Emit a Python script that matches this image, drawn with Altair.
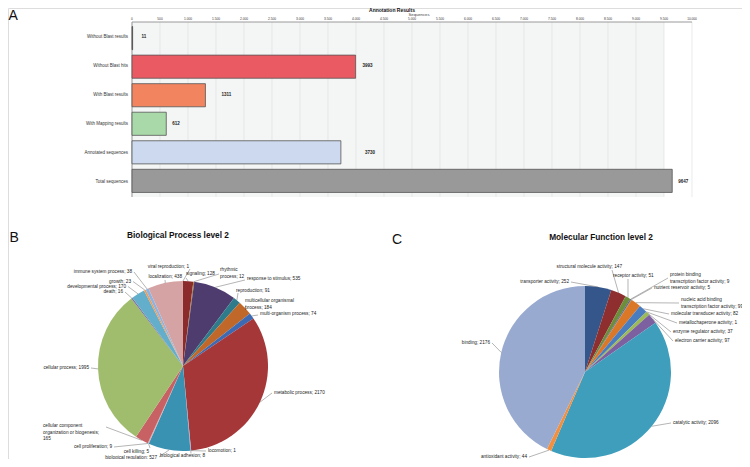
import math
import altair as alt
import pandas as pd

FONT = "Liberation Sans"
TXT = "#222222"

# ---------------- data ----------------
bar_categories = ["Without Blast results", "Without Blast hits", "With Blast results",
                  "With Mapping results", "Annotated sequences", "Total sequences"]
bar_values = [11, 3993, 1311, 612, 3730, 9647]
bar_colors = ["#444444", "#E95A62", "#F2845F", "#A9D9A9", "#CCD9EE", "#999999"]
bar_label_gap_px = [9, 7, 16, 6, 24, 6]
seq_ticks = list(range(0, 10001, 500))

bp_names = ["signaling", "rhythmic process", "response to stimulus", "reproduction",
            "multicellular organismal process", "multi-organism process", "metabolic process",
            "locomotion", "biological adhesion", "biological regulation", "cell killing",
            "cell proliferation", "cellular component organization or biogenesis",
            "cellular process", "death", "developmental process", "growth",
            "immune system process", "localization", "viral reproduction"]
bp_values = [128, 12, 535, 91, 184, 74, 2170, 1, 8, 527, 5, 9, 165, 1995, 16, 170, 23, 38, 438, 1]
bp_colors = ["#8B2B2B", "#A67C3A", "#4E3C6E", "#2E7B8C", "#C0682A", "#3E6AB3", "#A53739",
             "#7F6A9E", "#B3A0C8", "#3A92B2", "#9BB4D8", "#E0A0A0", "#C76163", "#A0BD6D",
             "#7D6AA0", "#63AFCB", "#F29A50", "#8DB3E2", "#D5A3A3", "#B0C890"]

mf_names = ["transporter activity", "structural molecule activity", "receptor activity",
            "protein binding transcription factor activity", "nutrient reservoir activity",
            "nucleic acid binding transcription factor activity", "molecular transducer activity",
            "metallochaperone activity", "enzyme regulator activity", "electron carrier activity",
            "catalytic activity", "antioxidant activity", "binding"]
mf_values = [252, 147, 51, 9, 5, 99, 82, 1, 37, 97, 2096, 44, 2176]
mf_colors = ["#34568A", "#8E2E2E", "#6C8E3A", "#5B4682", "#2A7A8A", "#DA7828", "#4A7CC0",
             "#C0504D", "#9BBB59", "#7D60A0", "#3E9EBC", "#F39040", "#98AACF"]

# label wrapping
wrap = {
    "rhythmic process": "rhythmic\nprocess; {v}",
    "multicellular organismal process": "multicellular organismal\nprocess; {v}",
    "cellular component organization or biogenesis": "cellular component\norganization or biogenesis;\n{v}",
    "protein binding transcription factor activity": "protein binding\ntranscription factor activity; {v}",
    "nucleic acid binding transcription factor activity": "nucleic acid binding\ntranscription factor activity; {v}",
}

# label layout (offsets in px from pie centre): label anchor, leader end, alignment
bp_label_dx = [3, 37, 64, 53, 62, 77, 91, 25, -23, -26, -34, -71, -140, -94, -60, -57, -52, -51, -1, 6]
bp_label_dy = [-92, -96, -87, -75, -65, -52, 27, 85, 90, 92, 86, 81, 60, 2, -74, -79.5, -84.5, -94, -89, -99]
bp_end_dx = [3, 36, 62, 55, 63, 75, 89, 23, 8, -24, -33, -69, -77, -92, -58, -55, -50, -49, -18, 7]
bp_end_dy = [-88, -92, -86, -73, -61, -51, 27, 85, 87.5, 91, 82, 81, 61, 2, -74, -79.5, -84.5, -94, -86, -97]
bp_align = ["left", "left", "left", "left", "left", "left", "left", "left", "left", "right",
            "right", "right", "left", "right", "right", "right", "right", "right", "right", "right"]

mf_label_dx = [-16, 37, 28, 85, 69, 96, 86, 94, 88, 90, 88, -58, -95]
mf_label_dy = [-90, -105, -96, -97, -84, -72, -58, -49, -40, -31, 51, 85, -29]
mf_end_dx = [-14, 27, 43, 83, 67, 94, 84, 92, 86, 88, 86, -56, -93]
mf_end_dy = [-90, -102, -93, -94, -84, -69, -58, -49, -40, -31, 51, 85, -29]
mf_align = ["right", "right", "left", "left", "left", "left", "left", "left", "left", "left",
            "left", "right", "right"]

# ---------------- layout ----------------
W, H = 734, 451
X_RANGE = [124, 684]
Y_RANGE = [14, 189]
PX_PER_UNIT = (X_RANGE[1] - X_RANGE[0]) / 10000.0

xs = alt.Scale(domain=[0, 10000], range=X_RANGE, nice=False, zero=False)
ys = alt.Scale(domain=bar_categories, range=Y_RANGE, paddingInner=0.19, paddingOuter=0.16)

bar_df = pd.DataFrame({"cat": bar_categories, "value": bar_values, "gap": bar_label_gap_px})
tick_df = pd.DataFrame({"t": seq_ticks})

bg = alt.Chart(pd.DataFrame({"a": [0], "b": [9500]})).mark_rect(color="#F4F5F5").encode(
    x=alt.X("a:Q", scale=xs, axis=None), x2="b:Q",
    y=alt.value(Y_RANGE[0]), y2=alt.value(Y_RANGE[1]))

grid = alt.Chart(tick_df).mark_rule(color="#DCDCDC", strokeWidth=0.6).encode(
    x=alt.X("t:Q", scale=xs, axis=None),
    y=alt.value(Y_RANGE[0]), y2=alt.value(Y_RANGE[1]))

# axis lines (top and left)
top_line = alt.Chart(pd.DataFrame({"a": [0], "b": [10000]})).mark_rule(
    color="#9A9A9A", strokeWidth=1).encode(
    x=alt.X("a:Q", scale=xs, axis=None), x2="b:Q", y=alt.value(Y_RANGE[0]))
left_line = alt.Chart(pd.DataFrame({"a": [0]})).mark_rule(
    color="#9A9A9A", strokeWidth=1).encode(
    x=alt.X("a:Q", scale=xs, axis=None), y=alt.value(Y_RANGE[0]), y2=alt.value(Y_RANGE[1]))

tick_labels = alt.Chart(tick_df).transform_calculate(
    lab="replace(format(datum.t, ','), ',', '.')"
).mark_text(fontSize=3.2, font=FONT, color="#333333", baseline="middle", align="center").encode(
    x=alt.X("t:Q", scale=xs, axis=None), y=alt.value(11.2), text="lab:N")

cat_labels = alt.Chart(bar_df).mark_text(fontSize=4.5, font=FONT, color="#333333",
                                         align="right", baseline="middle").encode(
    x=alt.value(X_RANGE[0] - 4),
    y=alt.Y("cat:N", scale=ys, sort=bar_categories, axis=None), text="cat:N")

bars = alt.Chart(bar_df).mark_bar(stroke="#555555", strokeWidth=0.8).encode(
    x=alt.X("value:Q", scale=xs, axis=None),
    y=alt.Y("cat:N", scale=ys, sort=bar_categories, axis=None),
    color=alt.Color("cat:N", scale=alt.Scale(domain=bar_categories, range=bar_colors), legend=None))

vals = alt.Chart(bar_df).transform_calculate(
    lx=f"datum.value + datum.gap / {PX_PER_UNIT}"
).mark_text(align="left", baseline="middle", fontSize=4.5,
            fontWeight="bold", font=FONT, color=TXT).encode(
    x=alt.X("lx:Q", scale=xs, axis=None),
    y=alt.Y("cat:N", scale=ys, sort=bar_categories, axis=None),
    text=alt.Text("value:Q", format="d"))


def note(text, x, y, size, weight="normal", align="center", baseline="middle", color="#111111"):
    return alt.Chart(pd.DataFrame({"t": [text]})).mark_text(
        align=align, baseline=baseline, fontSize=size, fontWeight=weight, font=FONT, color=color
    ).encode(x=alt.value(x), y=alt.value(y), text="t:N")


def pie_layers(names, values, colors, ldx, ldy, edx, edy, aligns, cx, cy, R):
    total = float(sum(values))
    rows = []
    cum = 0.0
    for i, (n, v) in enumerate(zip(names, values)):
        mid = (cum + v / 2.0) / total * 2 * math.pi
        cum += v
        lab = wrap[n].format(v=v) if n in wrap else f"{n}; {v}"
        rows.append(dict(idx=i, name=n, value=v, label=lab,
                         sx=R * math.sin(mid), sy=-R * math.cos(mid),
                         ex=edx[i], ey=edy[i], lx=ldx[i], ly=ldy[i], align=aligns[i]))
    df = pd.DataFrame(rows)
    pxs = alt.Scale(domain=[-200, 200], range=[cx - 200, cx + 200], nice=False, zero=False)
    pys = alt.Scale(domain=[-200, 200], range=[cy - 200, cy + 200], nice=False, zero=False)

    arcs = alt.Chart(df).mark_arc(radius=R).encode(
        theta=alt.Theta("value:Q", stack=True),
        color=alt.Color("name:N", scale=alt.Scale(domain=names, range=colors), legend=None),
        order=alt.Order("idx:Q", sort="ascending"),
        x=alt.value(cx), y=alt.value(cy))

    leaders = alt.Chart(df).mark_rule(color="#6A6A6A", strokeWidth=0.5).encode(
        x=alt.X("sx:Q", scale=pxs, axis=None), y=alt.Y("sy:Q", scale=pys, axis=None),
        x2="ex:Q", y2="ey:Q")

    out = [arcs, leaders]
    for al in ["left", "right"]:
        out.append(alt.Chart(df).transform_filter(f"datum.align == '{al}'").mark_text(
            align=al, baseline="middle", fontSize=4.7, font=FONT, lineBreak="\n",
            lineHeight=6.5, color=TXT).encode(
            x=alt.X("lx:Q", scale=pxs, axis=None), y=alt.Y("ly:Q", scale=pys, axis=None),
            text="label:N"))
    return out


pie_b = pie_layers(bp_names, bp_values, bp_colors, bp_label_dx, bp_label_dy,
                   bp_end_dx, bp_end_dy, bp_align, 175, 358, 85)
pie_c = pie_layers(mf_names, mf_values, mf_colors, mf_label_dx, mf_label_dy,
                   mf_end_dx, mf_end_dy, mf_align, 577, 364, 86)

notes = [
    note("A", 0.5, 8, 14, align="left"),
    note("B", 1.5, 229.5, 14, align="left"),
    note("C", 384, 232, 14, align="left"),
    note("Annotation Results", 384, 0, 5, weight="bold", baseline="top"),
    note("Sequences", 411, 7.4, 4.2, color="#444444"),
    note("Biological Process level 2", 170, 228, 8.3, weight="bold"),
    note("Molecular Function level 2", 593, 230, 8.3, weight="bold"),
]

chart = alt.layer(bg, grid, top_line, left_line, tick_labels, cat_labels, bars, vals,
                  *pie_b, *pie_c, *notes).resolve_scale(
    x="independent", y="independent", color="independent", theta="independent"
).properties(
    width=W, height=H, autosize=alt.AutoSizeParams(type="none"), padding=0
).configure_view(stroke=None).configure(background="white")

chart.save("out.html", embed_options={"renderer": "svg", "actions": False})
